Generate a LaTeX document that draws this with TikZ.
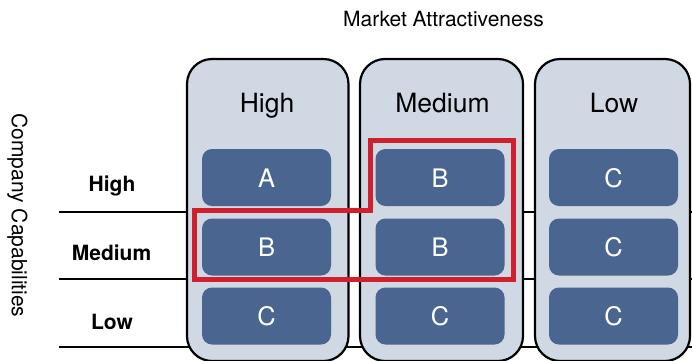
\documentclass[tikz,border=0pt]{standalone}
\usepackage{fontspec}
\setmainfont{TeX Gyre Heros}
\definecolor{colfill}{HTML}{CFD8E3}
\definecolor{boxfill}{HTML}{4A6690}
\definecolor{redline}{HTML}{D0202E}
\begin{document}
\begin{tikzpicture}[x=1pt,y=-1pt,
  column/.style={draw=black, line width=2.2pt, fill=colfill, rounded corners=25pt,
    minimum height=302pt, inner sep=0pt},
  cell/.style={fill=boxfill, rounded corners=10pt, minimum width=129pt,
    minimum height=57pt, inner sep=0pt},
  celltext/.style={anchor=base, text=white, font=\fontsize{25.5}{30}\selectfont, inner sep=0pt},
  collabel/.style={anchor=base, font=\fontsize{26.5}{31}\selectfont, inner sep=0pt},
  rowlabel/.style={anchor=base, font=\bfseries\fontsize{21}{25}\selectfont, inner sep=0pt},
  axislabel/.style={anchor=base, font=\fontsize{21}{25}\selectfont, inner sep=0pt},
  rowline/.style={draw=black, line width=2pt},
  selection/.style={draw=redline, line width=5pt}]
\useasboundingbox (0,0) rectangle (692,360);
\clip (0,0) rectangle (692,360);
% row separator lines (behind the columns)
\coordinate (l1) at (59,212); \coordinate (r1) at (692,212);
\coordinate (l2) at (59,279); \coordinate (r2) at (692,279);
\coordinate (l3) at (59,347); \coordinate (r3) at (692,347);
\draw[rowline] (l1) -- (r1);
\draw[rowline] (l2) -- (r2);
\draw[rowline] (l3) -- (r3);
% columns
\node[column, minimum width=161.5pt] (col1) at (267.75,210) {};
\node[column, minimum width=163pt] (col2) at (441.5,210) {};
\node[column, minimum width=155pt] (col3) at (612.5,210) {};
% column headings
\node[collabel] (h1) at (267,112.5) {High};
\node[collabel] (h2) at (442.5,112.5) {Medium};
\node[collabel] (h3) at (614,112.5) {Low};
% cells
\node[cell] (a11) at (266.5,177.5) {};
\node[cell] (a21) at (266.5,247) {};
\node[cell] (a31) at (266.5,316) {};
\node[cell] (a12) at (440,177.5) {};
\node[cell] (a22) at (440,247) {};
\node[cell] (a32) at (440,316) {};
\node[cell] (a13) at (613.5,177.5) {};
\node[cell] (a23) at (613.5,247) {};
\node[cell] (a33) at (613.5,316) {};
\node[celltext] (t11) at (266.5,187) {A};
\node[celltext] (t21) at (266.5,256.5) {B};
\node[celltext] (t31) at (266.5,325.5) {C};
\node[celltext] (t12) at (440,187) {B};
\node[celltext] (t22) at (440,256.5) {B};
\node[celltext] (t32) at (440,325.5) {C};
\node[celltext] (t13) at (613.5,187) {C};
\node[celltext] (t23) at (613.5,256.5) {C};
\node[celltext] (t33) at (613.5,325.5) {C};
% selection outline
\coordinate (s1) at (194.5,210);
\coordinate (s2) at (370,210);
\coordinate (s3) at (370,140.5);
\coordinate (s4) at (513,140.5);
\coordinate (s5) at (513,279.5);
\coordinate (s6) at (194.5,279.5);
\draw[selection] (s1) -- (s2) -- (s3) -- (s4) -- (s5) -- (s6) -- cycle;
% row labels
\node[rowlabel] (r1l) at (112,191.5) {High};
\node[rowlabel] (r2l) at (111.5,260.5) {Medium};
\node[rowlabel] (r3l) at (112,329.5) {Low};
% axis labels
\node[axislabel] (ma) at (443.5,26) {Market Attractiveness};
\node[axislabel, rotate=-90] (cc) at (12,215.5) {Company Capabilities};
\end{tikzpicture}
\end{document}
